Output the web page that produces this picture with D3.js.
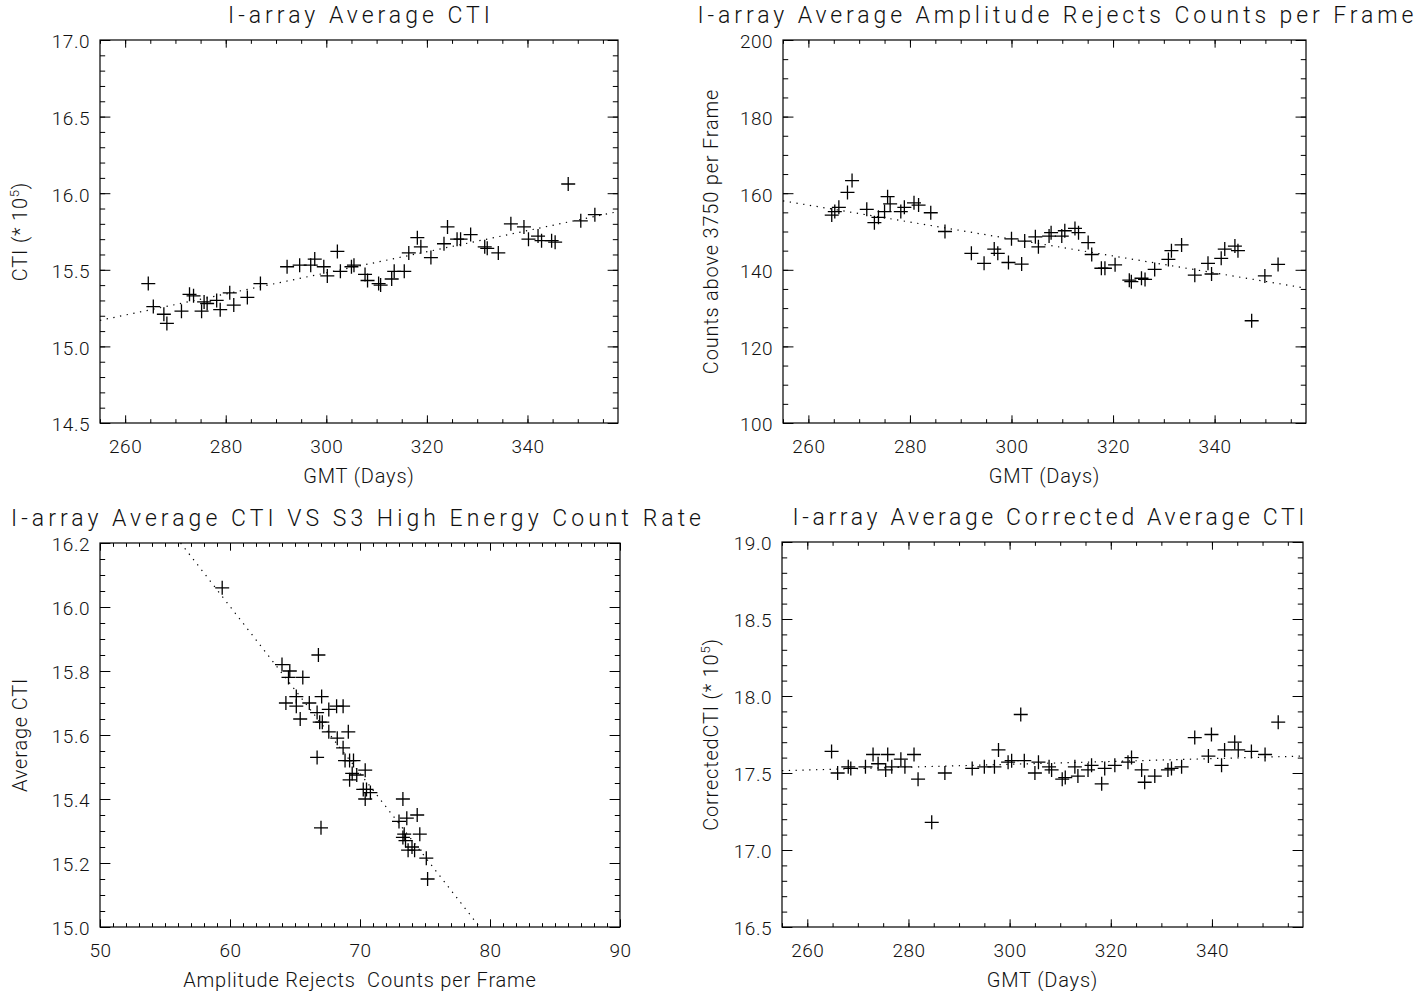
<!DOCTYPE html>
<html>
<head>
<meta charset="utf-8">
<script src="https://cdn.jsdelivr.net/npm/d3@7"></script>
<style>
body { margin:0; background:#fff; }
svg { display:block; font-family:Roboto, "Liberation Sans", Arial, sans-serif; font-weight:300; }
</style>
</head>
<body>
<svg id="chart" width="1416" height="991"></svg>
<script>
// panel 1 : average CTI by day
var ctiDays = [264.6,265.6,267.7,268.3,271.2,272.8,273.6,275.2,275.7,276.3,278.2,278.9,280.8,281.6,284.3,286.9,
    292.2,294.7,296.9,297.7,299.5,300.2,302.2,302.8,305.0,305.5,307.7,308.2,310.4,310.8,313.0,313.5,315.5,316.4,
    318.1,318.8,320.8,323.4,324.1,326.0,326.7,328.7,331.5,332.0,334.2,336.7,339.3,340.2,342.1,342.8,344.8,345.5,
    348.1,350.6,353.4];
var ctiValues = [15.41,15.26,15.21,15.15,15.23,15.34,15.33,15.23,15.29,15.28,15.30,15.24,15.35,15.27,15.32,15.41,
    15.52,15.53,15.53,15.57,15.52,15.46,15.62,15.49,15.52,15.53,15.47,15.43,15.41,15.40,15.44,15.49,15.49,15.61,
    15.71,15.65,15.58,15.67,15.78,15.70,15.70,15.73,15.65,15.64,15.61,15.80,15.78,15.70,15.72,15.69,15.69,15.68,
    16.06,15.82,15.86];
var ctiFit = [[255,15.17],[358,15.88]];

// panel 2 : amplitude rejects per frame by day
var rejDays = [264.6,265.2,266.0,267.7,268.6,271.5,273.0,273.8,275.0,275.6,276.1,278.2,278.9,280.8,281.7,284.1,
    286.9,292.1,294.6,296.6,297.3,299.4,300.0,302.0,302.6,304.7,305.3,307.4,307.8,309.9,310.5,312.5,313.2,315.1,
    315.8,317.7,318.4,320.4,323.2,323.6,325.6,326.3,328.2,330.9,331.5,333.5,336.1,338.7,339.4,341.3,342.0,344.0,
    344.6,347.3,349.9,352.5];
var rejValues = [154.3,155.2,156.3,160.2,163.3,155.8,152.3,153.7,155.2,159.1,157.2,155.2,156.3,157.5,156.9,154.9,
    150.0,144.3,141.7,145.4,144.3,141.9,148.1,141.5,147.5,148.6,146.0,148.8,149.7,148.8,150.2,150.8,149.7,147.1,
    144.0,140.4,140.4,141.3,137.3,136.9,137.8,137.5,140.1,142.7,145.0,146.5,138.6,141.7,138.9,143.0,145.4,146.2,
    145.0,126.7,138.4,141.4];
var rejFit = [[255,158.0],[358,135.2]];

// panel 3 : CTI against amplitude rejects
var ampRejects = [59.4,66.8,64.0,64.6,64.5,65.6,65.1,64.3,66.1,67.05,65.1,65.4,66.7,67.6,68.2,68.7,66.9,67.1,
    67.6,69.1,68.25,68.7,66.7,68.85,69.2,69.5,70.4,69.4,69.75,69.2,70.5,70.25,70.8,70.4,73.3,73.6,74.4,73.0,
    74.6,73.4,73.3,73.5,74.0,73.7,74.2,75.1,75.2,67.0];
var ampCti = [16.06,15.85,15.82,15.80,15.78,15.78,15.72,15.70,15.70,15.72,15.69,15.65,15.67,15.68,15.69,15.69,
    15.64,15.64,15.61,15.61,15.59,15.56,15.53,15.52,15.52,15.52,15.49,15.48,15.475,15.46,15.43,15.43,15.42,15.40,
    15.40,15.34,15.35,15.33,15.29,15.29,15.28,15.27,15.25,15.24,15.24,15.215,15.15,15.31];
var ampFit = [[56.2,16.2],[79.2,15.0]];

// panel 4 : corrected CTI by day
var corrDays = [264.8,266.0,268.1,268.6,271.5,273.0,274.0,275.5,275.9,276.7,278.5,279.3,281.1,281.9,284.6,287.2,
    292.6,295.0,297.0,297.8,299.7,300.4,302.2,302.9,305.0,305.7,307.8,308.3,310.4,311.0,312.9,313.5,315.5,316.2,
    318.2,318.8,320.8,323.4,324.1,326.1,326.7,328.7,331.3,332.0,334.0,336.6,339.3,339.9,341.9,342.5,344.5,345.2,
    347.8,350.5,353.1];
var corrValues = [17.64,17.50,17.54,17.53,17.54,17.62,17.56,17.52,17.62,17.54,17.59,17.54,17.62,17.46,17.18,17.50,
    17.53,17.54,17.54,17.65,17.57,17.58,17.88,17.58,17.50,17.57,17.54,17.52,17.46,17.47,17.54,17.48,17.52,17.55,
    17.43,17.53,17.55,17.57,17.60,17.52,17.44,17.48,17.52,17.53,17.54,17.73,17.61,17.75,17.55,17.65,17.70,17.65,
    17.64,17.62,17.83];
var corrFit = [[255,17.515],[358,17.61]];

// tick labels
var dayTicks = [260,280,300,320,340];
var ctiTicks = [14.5,15.0,15.5,16.0,16.5,17.0];
var rejTicks = [100,120,140,160,180,200];
var ampTicks = [50,60,70,80,90];
var ampCtiTicks = [15.0,15.2,15.4,15.6,15.8,16.0,16.2];
var corrTicks = [16.5,17.0,17.5,18.0,18.5,19.0];

var svg = d3.select("#chart");
var FONT = "Roboto, Liberation Sans, Arial, sans-serif";

function minorValues(domain, step){
    var start = Math.ceil(domain[0]/step - 1e-6)*step;
    return d3.range(start, domain[1] + step*1e-3, step);
}

function drawPanel(p){
    var g = svg.append("g").attr("transform", "translate(" + p.left + "," + p.top + ")");
    var x = d3.scaleLinear().domain(p.xDomain).range([0, p.width]);
    var y = d3.scaleLinear().domain(p.yDomain).range([p.height, 0]);
    var xLen = p.height*0.02, yLen = p.width*0.02;

    // minor ticks on all four sides
    var xm = minorValues(p.xDomain, p.xMinor), ym = minorValues(p.yDomain, p.yMinor);
    g.append("g").attr("transform", "translate(0," + p.height + ")")
        .call(d3.axisBottom(x).tickValues(xm).tickSize(-xLen/2).tickFormat(""));
    g.append("g").call(d3.axisTop(x).tickValues(xm).tickSize(-xLen/2).tickFormat(""));
    g.append("g").call(d3.axisLeft(y).tickValues(ym).tickSize(-yLen/2).tickFormat(""));
    g.append("g").attr("transform", "translate(" + p.width + ",0)")
        .call(d3.axisRight(y).tickValues(ym).tickSize(-yLen/2).tickFormat(""));

    // major ticks
    g.append("g").attr("class", "lab").attr("transform", "translate(0," + p.height + ")")
        .call(d3.axisBottom(x).tickValues(p.xTicks).tickSize(-xLen).tickPadding(17).tickFormat(d3.format(p.xFormat)));
    g.append("g").call(d3.axisTop(x).tickValues(p.xTicks).tickSize(-xLen).tickFormat(""));
    g.append("g").attr("class", "lab ylab")
        .call(d3.axisLeft(y).tickValues(p.yTicks).tickSize(-yLen).tickPadding(10).tickFormat(d3.format(p.yFormat)));
    g.append("g").attr("transform", "translate(" + p.width + ",0)")
        .call(d3.axisRight(y).tickValues(p.yTicks).tickSize(-yLen).tickFormat(""));

    g.selectAll(".domain").remove();
    g.selectAll(".tick line").attr("stroke", "#000").attr("stroke-width", 1);
    g.selectAll(".lab text").attr("font-size", 19).attr("fill", "#111")
        .attr("font-family", FONT).attr("font-weight", 300).attr("letter-spacing", 0.5);
    g.selectAll(".ylab text").attr("dy", "0.42em");

    g.append("rect")
        .attr("width", p.width).attr("height", p.height)
        .attr("fill", "none").attr("stroke", "#000").attr("stroke-width", 1.2);

    // fitted line
    g.append("path")
        .datum(p.fit)
        .attr("d", d3.line().x(function(d){ return x(d[0]); }).y(function(d){ return y(d[1]); }))
        .attr("fill", "none").attr("stroke", "#000").attr("stroke-width", 1.2)
        .attr("stroke-dasharray", "1.3,5.5");

    // plus markers
    var pts = p.xs.map(function(v, i){ return [v, p.ys[i]]; });
    g.append("g").selectAll("path")
        .data(pts)
        .enter()
        .append("path")
        .attr("d", function(d){
            var cx = x(d[0]), cy = y(d[1]), s = 7;
            return "M" + (cx - s) + "," + cy + "H" + (cx + s) + "M" + cx + "," + (cy - s) + "V" + (cy + s);
        })
        .attr("stroke", "#000").attr("stroke-width", 1.3).attr("fill", "none");

    // titles
    svg.append("text")
        .attr("x", p.left + p.width/2 + p.titleShift).attr("y", p.top - 17)
        .attr("text-anchor", "middle").attr("font-size", 23).attr("fill", "#111")
        .attr("textLength", p.titleWidth).attr("lengthAdjust", "spacing")
        .text(p.title);
    svg.append("text")
        .attr("x", p.left + p.width/2).attr("y", p.top + p.height + 60)
        .attr("text-anchor", "middle").attr("font-size", 20).attr("fill", "#111")
        .attr("letter-spacing", 0.8)
        .text(p.xLabel);
    var yt = svg.append("text")
        .attr("transform", "translate(" + p.yLabelX + "," + (p.top + p.height/2) + ") rotate(-90)")
        .attr("text-anchor", "middle").attr("font-size", 20).attr("fill", "#111")
        .attr("letter-spacing", 0.8);
    yt.append("tspan").text(p.yLabel);
    if (p.ySup) {
        yt.append("tspan").attr("font-size", 13).attr("dy", -8).text(p.ySup);
        yt.append("tspan").attr("dy", 8).text(")");
    }
}

drawPanel({left:100, top:40, width:518, height:383,
    xDomain:[255,358], yDomain:[14.5,17.0], xTicks:dayTicks, yTicks:ctiTicks, xMinor:5, yMinor:0.1,
    xFormat:"d", yFormat:".1f", xs:ctiDays, ys:ctiValues, fit:ctiFit,
    title:"I-array Average CTI", titleWidth:262, titleShift:0,
    xLabel:"GMT (Days)", yLabel:"CTI (* 10", ySup:"5", yLabelX:27});

drawPanel({left:783, top:40, width:523, height:383,
    xDomain:[255,358], yDomain:[100,200], xTicks:dayTicks, yTicks:rejTicks, xMinor:5, yMinor:5,
    xFormat:"d", yFormat:"d", xs:rejDays, ys:rejValues, fit:rejFit,
    title:"I-array Average Amplitude Rejects Counts per Frame", titleWidth:716, titleShift:11,
    xLabel:"GMT (Days)", yLabel:"Counts above 3750 per Frame", ySup:null, yLabelX:718});

drawPanel({left:100, top:543, width:520, height:384,
    xDomain:[50,90], yDomain:[15.0,16.2], xTicks:ampTicks, yTicks:ampCtiTicks, xMinor:1, yMinor:0.05,
    xFormat:"d", yFormat:".1f", xs:ampRejects, ys:ampCti, fit:ampFit,
    title:"I-array Average CTI VS S3 High Energy Count Rate", titleWidth:690, titleShift:-4,
    xLabel:"Amplitude Rejects\u00a0\u00a0Counts per Frame", yLabel:"Average CTI", ySup:null, yLabelX:27});

drawPanel({left:782, top:542, width:521, height:385,
    xDomain:[255,358], yDomain:[16.5,19.0], xTicks:dayTicks, yTicks:corrTicks, xMinor:5, yMinor:0.1,
    xFormat:"d", yFormat:".1f", xs:corrDays, ys:corrValues, fit:corrFit,
    title:"I-array Average Corrected Average CTI", titleWidth:512, titleShift:6,
    xLabel:"GMT (Days)", yLabel:"CorrectedCTI (* 10", ySup:"5", yLabelX:718});
</script>
</body>
</html>
